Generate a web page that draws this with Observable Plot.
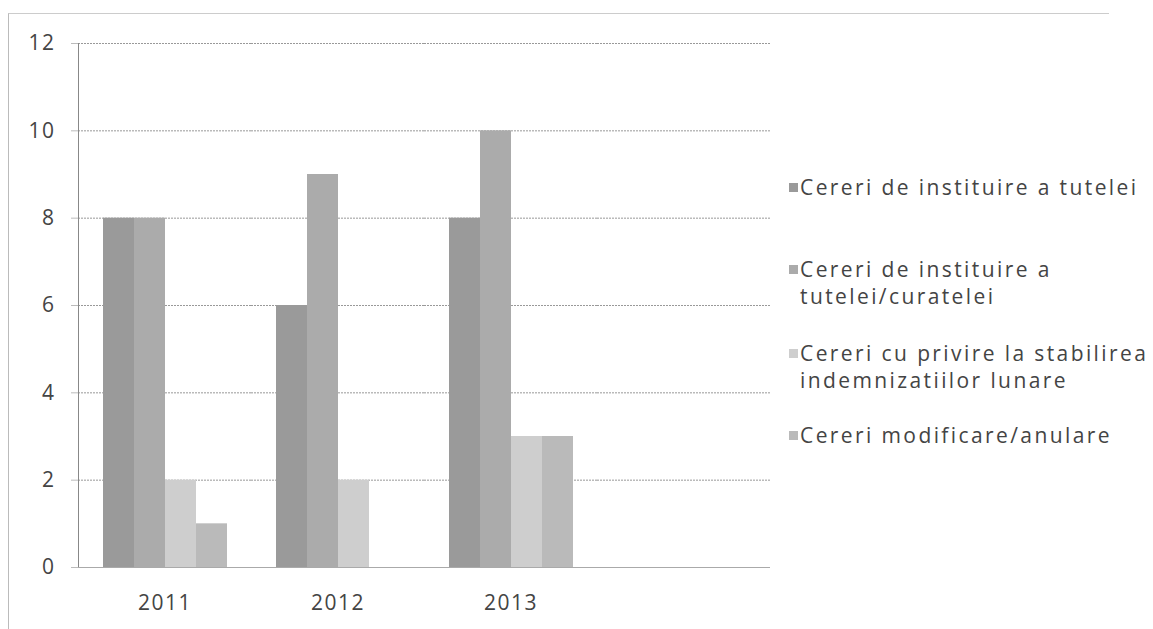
<!DOCTYPE html>
<html>
<head>
<meta charset="utf-8">
<script src="https://cdn.jsdelivr.net/npm/d3@7"></script>
<script src="https://cdn.jsdelivr.net/npm/@observablehq/plot@0.6"></script>
<style>
  html, body { margin: 0; padding: 0; background: #fff; }
  #wrap { position: relative; width: 1153px; height: 629px; overflow: hidden; font-family: "Open Sans", sans-serif; }
  #border { position: absolute; left: 8px; top: 13px; width: 1100px; height: 640px;
            border-left: 1px solid #bbb; border-top: 1px solid #ccc; }
  #chart { position: absolute; left: 0; top: 0; }
  #chart svg text { letter-spacing: 1.5px; }
  .legend { position: absolute; left: 789px; color: #444; font-size: 21px; line-height: 27px; letter-spacing: 2.4px; }
  .legend .item { position: absolute; left: 0; width: 362px; padding-left: 11px; white-space: nowrap; }
  .legend .sw { position: absolute; left: 0; top: 9px; width: 9px; height: 9px; }
</style>
</head>
<body>
<div id="wrap">
  <div id="border"></div>
  <div id="chart"></div>
  <div class="legend" id="legend"></div>
</div>
<script>
const years = ["2011", "2012", "2013"];
const categories = ["2011", "2012", "2013", ""];
const seriesNames = [
  "Cereri de instituire a tutelei",
  "Cereri de instituire a tutelei/curatelei",
  "Cereri cu privire la stabilirea indemnizatiilor lunare",
  "Cereri modificare/anulare"
];
const legendLines = [
  ["Cereri de instituire a tutelei"],
  ["Cereri de instituire a", "tutelei/curatelei"],
  ["Cereri cu privire la stabilirea", "indemnizatiilor lunare"],
  ["Cereri modificare/anulare"]
];
const tutela = [8, 6, 8];
const tutelaCuratela = [8, 9, 10];
const indemnizatii = [2, 2, 3];
const modificare = [1, 0, 3];
const yTicks = [0, 2, 4, 6, 8, 10, 12];
const gridTicks = [2, 4, 6, 8, 10, 12];
const colors = ["#9a9a9a", "#ababab", "#cecece", "#bababa"];

const seriesValues = [tutela, tutelaCuratela, indemnizatii, modificare];
const rows = [];
years.forEach((yr, i) => {
  seriesNames.forEach((s, j) => rows.push({year: yr, series: s, value: seriesValues[j][i]}));
});
// grid rows in every category (including the empty 4th one) so every band is drawn
const gridRows = categories.flatMap(c => gridTicks.map(t => ({cat: c, tick: t})));
const baseRows = categories.map(c => ({cat: c, tick: 0}));

const chart = Plot.plot({
  width: 1153,
  height: 629,
  marginLeft: 78,
  marginRight: 383,
  marginTop: 43,
  marginBottom: 62,
  style: {fontFamily: "'Open Sans', sans-serif", fontSize: "22px", color: "#444", background: "transparent"},
  fx: {domain: categories, padding: 0, label: null},
  x: {domain: seriesNames, paddingInner: 0, paddingOuter: 0.79, axis: null},
  y: {domain: [0, 12], label: null},
  color: {domain: seriesNames, range: colors},
  marks: [
    Plot.ruleY(gridRows, {fx: "cat", y: "tick", stroke: "#777", strokeOpacity: 0.75, strokeDasharray: "2,1"}),
    Plot.frame({anchor: "left", facetAnchor: "left", stroke: "#888", strokeDasharray: "2,1"}),
    Plot.barY(rows, {fx: "year", x: "series", y: "value", fill: "series"}),
    Plot.ruleY(baseRows, {fx: "cat", y: "tick", stroke: "#aaa"}),
    Plot.axisY(yTicks, {tickSize: 7, tickPadding: 16, stroke: "#bbb", fontSize: 21, fill: "#444", label: null}),
    Plot.axisFx({anchor: "bottom", tickSize: 0, tickPadding: 28, fontSize: 21, fill: "#444", label: null})
  ]
});
document.getElementById("chart").appendChild(chart);

const tops = [174, 256, 340, 422];
const legend = document.getElementById("legend");
legendLines.forEach((lines, i) => {
  const item = document.createElement("div");
  item.className = "item";
  item.style.top = tops[i] + "px";
  const sw = document.createElement("div");
  sw.className = "sw";
  sw.style.background = colors[i];
  item.appendChild(sw);
  lines.forEach(t => {
    const d = document.createElement("div");
    d.textContent = t;
    item.appendChild(d);
  });
  legend.appendChild(item);
});
</script>
</body>
</html>
